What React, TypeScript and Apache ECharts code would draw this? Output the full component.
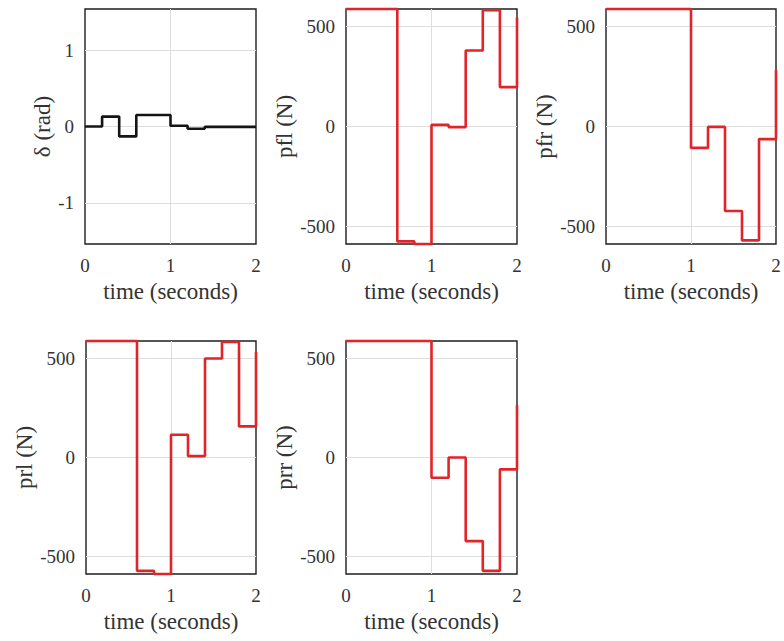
import React, { useEffect, useRef } from "react";
import * as echarts from "echarts";

const time = [0, 0.2, 0.4, 0.6, 0.8, 1.0, 1.2, 1.4, 1.6, 1.8, 2.0];
const delta = [0, 0.13, -0.13, 0.15, 0.15, 0.01, -0.03, -0.005, -0.005, -0.005, -0.005];
const pfl = [588, 588, 588, -575, -588, 8, -3, 380, 582, 197, 545];
const pfr = [588, 588, 588, 588, 588, -107, -2, -423, -570, -63, 283];
const prl = [588, 588, 588, -572, -588, 115, 7, 500, 583, 157, 533];
const prr = [588, 588, 588, 588, 588, -102, 0, -422, -572, -60, 265];

const xTicks = [0, 1, 2];
const xGridTicks = [1];
const deltaTicks = [-1, 0, 1];
const forceTicks = [-500, 0, 500];

const yNames = ["δ (rad)", "pfl (N)", "pfr (N)", "prl (N)", "prr (N)"];
const xName = "time (seconds)";

export default function App() {
  const ref = useRef<HTMLDivElement>(null);
  useEffect(() => {
    document.body.style.margin = "0";
    const chart = echarts.init(ref.current!, null, { renderer: "svg" });
    const font = "'Liberation Serif', 'Times New Roman', serif";
    const grids = [
      { left: 85, top: 9, width: 171, height: 235 },
      { left: 346, top: 9, width: 171, height: 235 },
      { left: 606, top: 9, width: 170, height: 235 },
      { left: 86, top: 341, width: 170, height: 233 },
      { left: 346, top: 341, width: 171, height: 233 },
    ];
    const sets = [delta, pfl, pfr, prl, prr];
    const colors = ["#151515", "#e1242a", "#e1242a", "#e1242a", "#e1242a"];
    const textColor = "#333333";
    const option: any = {
      animation: false,
      backgroundColor: "#ffffff",
      grid: grids.map((g) => ({
        ...g,
        show: true,
        borderColor: "#1e1e1e",
        borderWidth: 1.4,
        backgroundColor: "#ffffff",
        containLabel: false,
      })),
      xAxis: grids.map((_, i) => ({
        type: "value",
        gridIndex: i,
        min: 0,
        max: 2,
        interval: 1,
        name: xName,
        nameLocation: "middle",
        nameGap: 36,
        nameTextStyle: { fontFamily: font, fontSize: 23, color: textColor },
        axisLine: { show: false },
        axisTick: { show: false, customValues: xGridTicks },
        axisLabel: {
          fontFamily: font,
          fontSize: 19,
          color: textColor,
          margin: 12,
          customValues: xTicks,
        },
        splitLine: { show: true, lineStyle: { color: "#dedede", width: 1 } },
      })),
      yAxis: grids.map((_, i) => {
        const isDelta = i === 0;
        const ticks = isDelta ? deltaTicks : forceTicks;
        return {
          type: "value",
          gridIndex: i,
          min: isDelta ? -1.54 : -588,
          max: isDelta ? 1.54 : 588,
          name: yNames[i],
          nameLocation: "middle",
          nameGap: isDelta ? 29 : 47,
          nameTextStyle: { fontFamily: font, fontSize: 23, color: textColor },
          axisLine: { show: false },
          axisTick: { show: false, customValues: ticks },
          axisLabel: {
            fontFamily: font,
            fontSize: 19,
            color: textColor,
            margin: 11,
            customValues: ticks,
          },
          splitLine: { show: true, lineStyle: { color: "#dedede", width: 1 } },
        };
      }),
      series: sets.map((vals, i) => ({
        type: "line",
        xAxisIndex: i,
        yAxisIndex: i,
        step: "end",
        symbol: "none",
        clip: false,
        data: time.map((t, k) => [t, vals[k]]),
        lineStyle: { color: colors[i], width: 2.6 },
      })),
    };
    chart.setOption(option);
    return () => chart.dispose();
  }, []);
  return (
    <div
      ref={ref}
      style={{ position: "absolute", left: 0, top: 0, width: 784, height: 641 }}
    />
  );
}
